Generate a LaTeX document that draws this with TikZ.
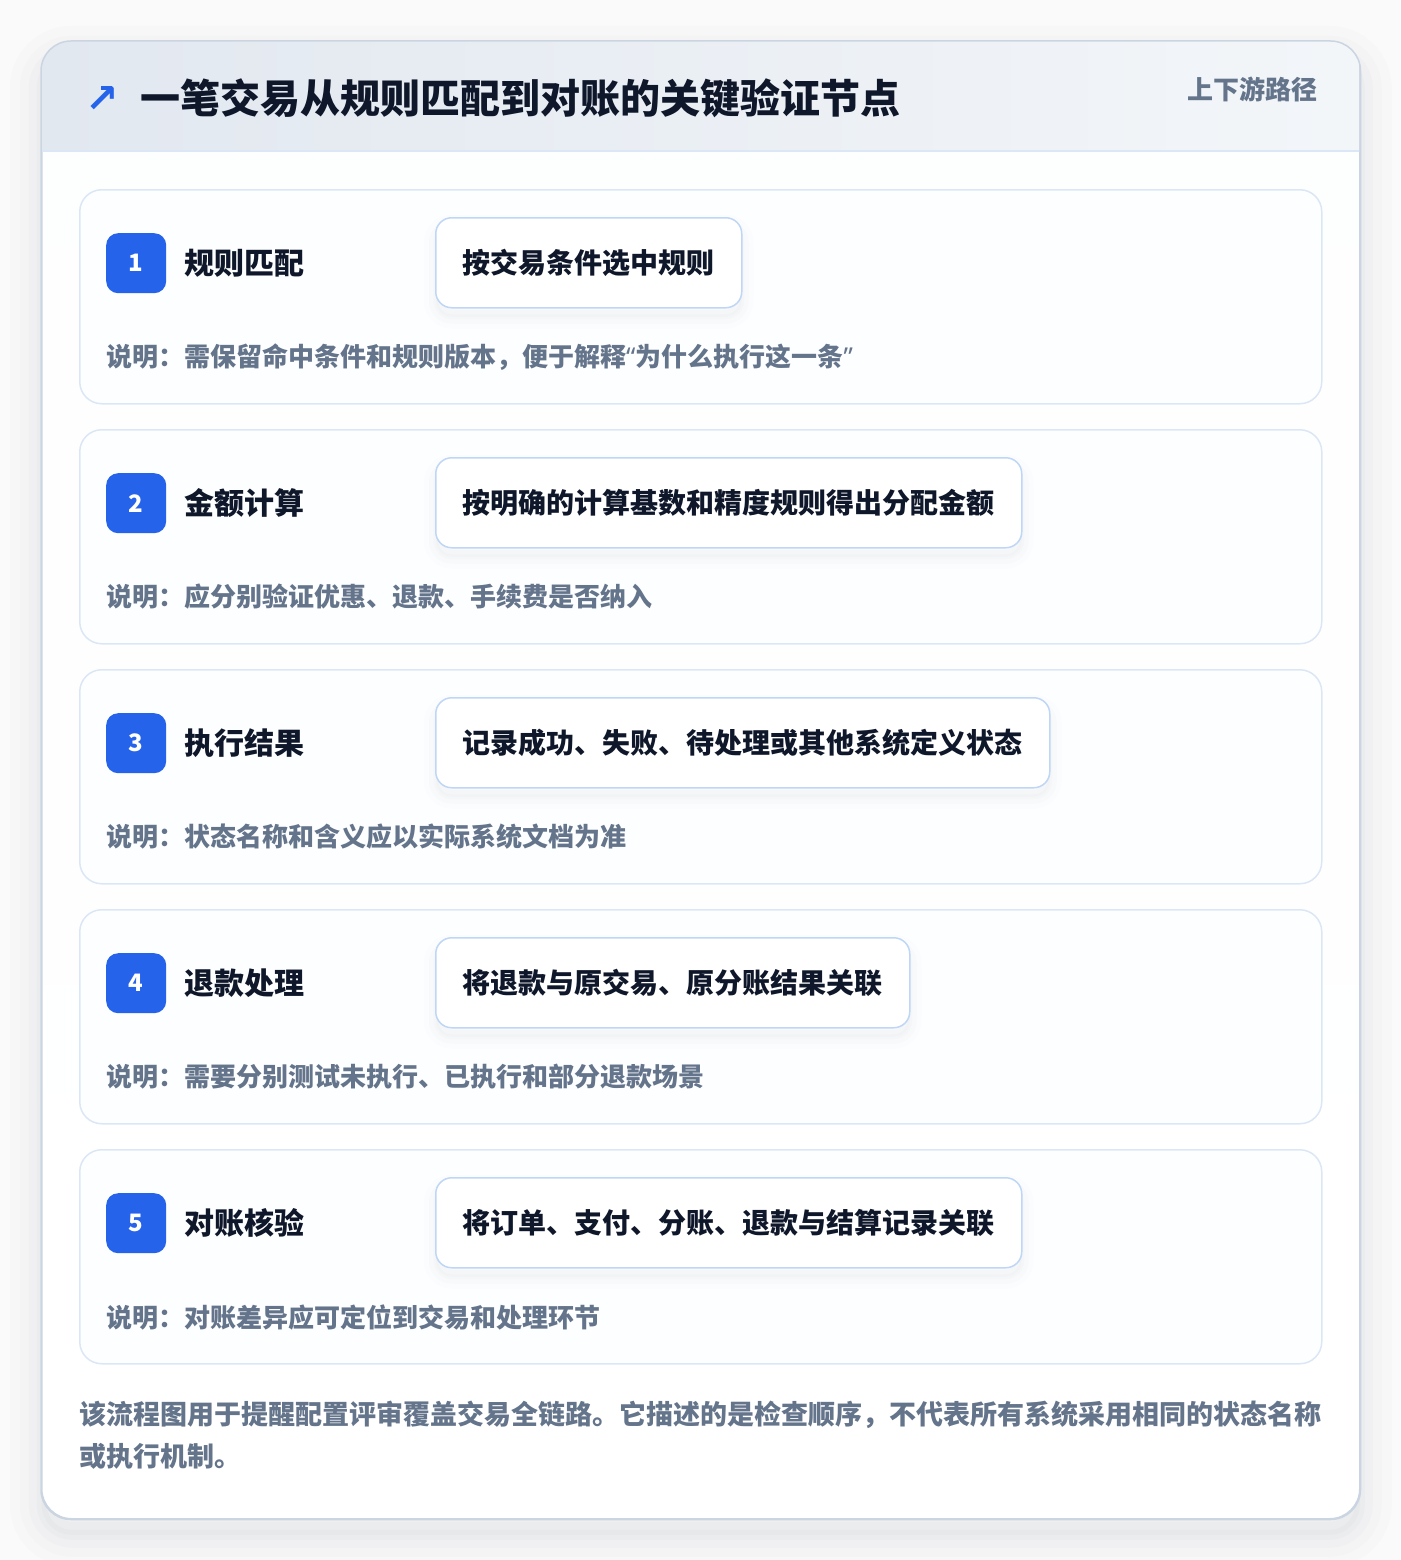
\documentclass[tikz,border=0pt]{standalone}
\usepackage{fontspec}
\setmainfont{Noto Sans CJK SC}
\newfontfamily\symfont{DejaVu Sans}
\newfontfamily\quotefont{Noto Sans}
\usepackage{tikz}
\usepackage{xcolor}
\usetikzlibrary{positioning}
\definecolor{ink}{HTML}{0F172A}
\definecolor{muted}{HTML}{64748B}
\definecolor{accent}{HTML}{2563EB}
\definecolor{pagebg}{HTML}{FAFAFB}
\definecolor{panelline}{HTML}{CBD5E1}
\definecolor{headleft}{HTML}{E2E8F0}
\definecolor{headright}{HTML}{F3F6F9}
\definecolor{headline}{HTML}{DBE7F7}
\definecolor{cardline}{HTML}{DCE7F5}
\definecolor{cardfill}{HTML}{FDFEFF}
\definecolor{boxline}{HTML}{BFD6F6}
\definecolor{shadowc}{HTML}{1E293B}
\newcommand{\openq}{{\quotefont\bfseries “}}
\newcommand{\closeq}{{\quotefont\bfseries ”}}
\tikzset{
    panel-shadow/.style = {
        preaction={draw=shadowc, line width=64pt, opacity=0.011, transform canvas={yshift=-16pt}},
        preaction={draw=shadowc, line width=44pt, opacity=0.013, transform canvas={yshift=-16pt}},
        preaction={draw=shadowc, line width=26pt, opacity=0.015, transform canvas={yshift=-16pt}},
        preaction={draw=shadowc, fill=shadowc, line width=10pt, opacity=0.018, transform canvas={yshift=-16pt}}},
    box-shadow/.style = {
        preaction={draw=shadowc, line width=24pt, opacity=0.008, transform canvas={yshift=-9pt}},
        preaction={draw=shadowc, line width=14pt, opacity=0.010, transform canvas={yshift=-9pt}},
        preaction={draw=shadowc, fill=shadowc, line width=5pt, opacity=0.012, transform canvas={yshift=-9pt}}},
    panel-box/.style = {draw=panelline, line width=1.5pt, rectangle, rounded corners=30pt, minimum width=1318pt, minimum height=1477pt, anchor=north west, top color=white!94!headleft, bottom color=white, panel-shadow},
    step-card/.style = {draw=cardline, fill=cardfill, line width=1.5pt, rectangle, rounded corners=22pt, minimum width=1242pt, minimum height=214pt, anchor=north west},
    step-badge/.style = {fill=accent, text=white, rectangle, rounded corners=12pt, minimum size=60pt, inner sep=0pt, font=\fontsize{24}{24}\selectfont\bfseries},
    step-title/.style = {text=ink, inner sep=0pt, font=\fontsize{30}{30}\selectfont\bfseries},
    action-box/.style = {draw=boxline, fill=white, line width=1.5pt, rectangle, rounded corners=16pt, minimum height=90pt, inner xsep=27pt, text=ink, font=\fontsize{28}{28}\selectfont\bfseries, box-shadow},
    note-text/.style = {text=muted, inner sep=0pt, font=\fontsize{26}{26}\selectfont\bfseries},
}

\begin{document}
\begin{tikzpicture}[x=1pt, y=-1pt]
\useasboundingbox (0,0) rectangle (1400,1560);
\fill[pagebg] (0,0) rectangle (1400,1560);

% outer panel and header band
\node[panel-box] (panel) at (41,41) {};
\coordinate (head-left) at (41,151);
\coordinate (head-right) at (1359,151);
\begin{scope}
    \clip[rounded corners=30pt] (panel.north west) rectangle (panel.south east);
    \shade[left color=headleft, right color=headright] (panel.north west) rectangle (head-right);
\end{scope}
\draw[headline, line width=1.5pt] (head-left) -- (head-right);
\draw[panelline, line width=1.5pt, rounded corners=30pt] (panel.north west) rectangle (panel.south east);

\node[text=accent, inner sep=0pt, font=\symfont\bfseries\fontsize{40}{40}\selectfont] (icon) at (102,100) {↗};
\node[text=ink, inner sep=0pt, anchor=west, font=\fontsize{40}{40}\selectfont\bfseries] (title) at (140,98) {一笔交易从规则匹配到对账的关键验证节点};
\node[text=muted, inner sep=0pt, anchor=east, font=\fontsize{26}{26}\selectfont\bfseries] (path-tag) at (1318,89) {上下游路径};

% step 1
\node[step-card] (card1) at (79,189) {};
\node[step-badge, below right=44pt and 27pt of card1.north west] (badge1) {1};
\node[step-title, right=18pt of badge1] (title1) {规则匹配};
\node[action-box, below right=28pt and 356pt of card1.north west] (act1) {按交易条件选中规则};
\node[note-text, below right=168pt and 27pt of card1.north west, anchor=west] (note1) {说明：需保留命中条件和规则版本，便于解释\openq 为什么执行这一条\closeq};

% step 2
\node[step-card] (card2) at (79,429) {};
\node[step-badge, below right=44pt and 27pt of card2.north west] (badge2) {2};
\node[step-title, right=18pt of badge2] (title2) {金额计算};
\node[action-box, below right=28pt and 356pt of card2.north west] (act2) {按明确的计算基数和精度规则得出分配金额};
\node[note-text, below right=168pt and 27pt of card2.north west, anchor=west] (note2) {说明：应分别验证优惠、退款、手续费是否纳入};

% step 3
\node[step-card] (card3) at (79,669) {};
\node[step-badge, below right=44pt and 27pt of card3.north west] (badge3) {3};
\node[step-title, right=18pt of badge3] (title3) {执行结果};
\node[action-box, below right=28pt and 356pt of card3.north west] (act3) {记录成功、失败、待处理或其他系统定义状态};
\node[note-text, below right=168pt and 27pt of card3.north west, anchor=west] (note3) {说明：状态名称和含义应以实际系统文档为准};

% step 4
\node[step-card] (card4) at (79,909) {};
\node[step-badge, below right=44pt and 27pt of card4.north west] (badge4) {4};
\node[step-title, right=18pt of badge4] (title4) {退款处理};
\node[action-box, below right=28pt and 356pt of card4.north west] (act4) {将退款与原交易、原分账结果关联};
\node[note-text, below right=168pt and 27pt of card4.north west, anchor=west] (note4) {说明：需要分别测试未执行、已执行和部分退款场景};

% step 5
\node[step-card] (card5) at (79,1149) {};
\node[step-badge, below right=44pt and 27pt of card5.north west] (badge5) {5};
\node[step-title, right=18pt of badge5] (title5) {对账核验};
\node[action-box, below right=28pt and 356pt of card5.north west] (act5) {将订单、支付、分账、退款与结算记录关联};
\node[note-text, below right=168pt and 27pt of card5.north west, anchor=west] (note5) {说明：对账差异应可定位到交易和处理环节};

% footer
\node[text=muted, inner sep=0pt, anchor=north west, align=left, text width=1260pt, font=\fontsize{27}{42}\selectfont\bfseries] (footnote) at (79,1401) {该流程图用于提醒配置评审覆盖交易全链路。它描述的是检查顺序，不代表所有系统采用相同的状态名称\\或执行机制。};
\end{tikzpicture}
\end{document}
